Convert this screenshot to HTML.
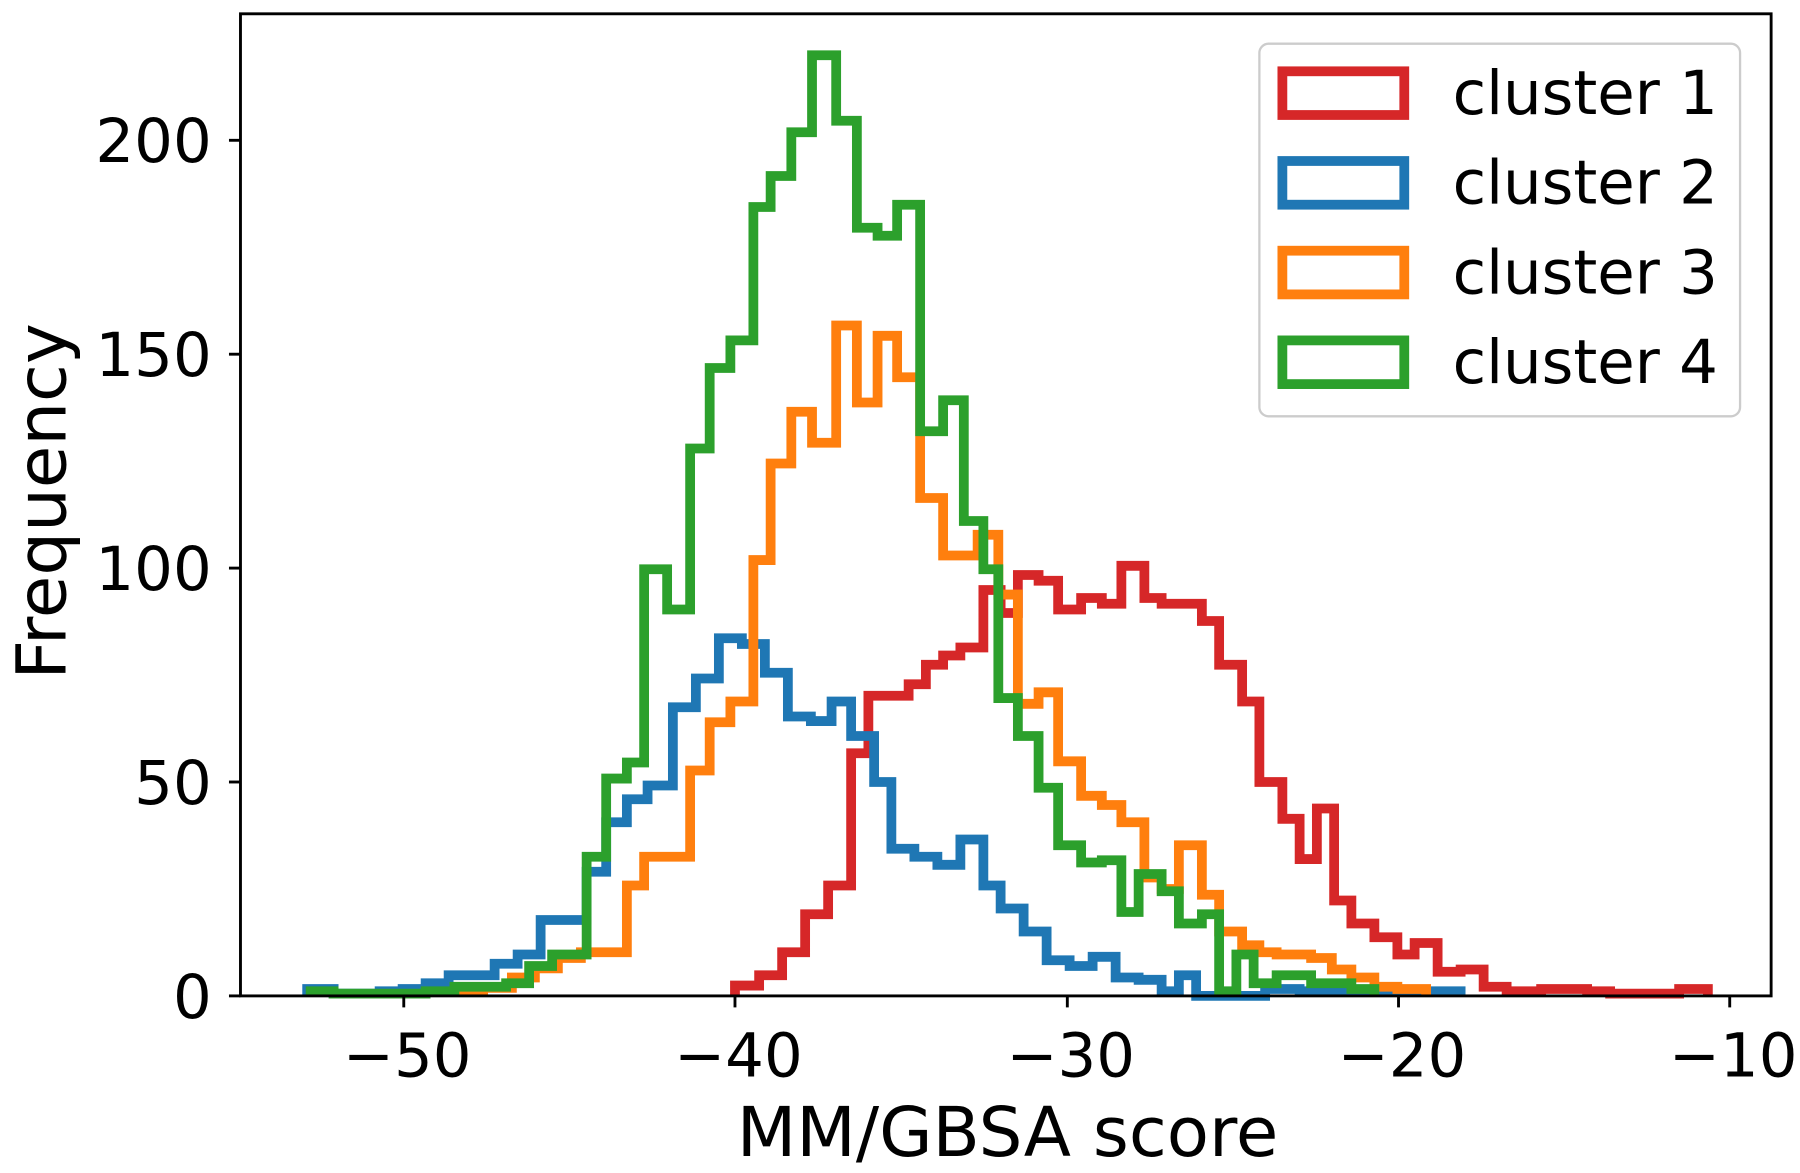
<!DOCTYPE html>
<html><head><meta charset="utf-8"><style>
html,body{margin:0;padding:0;background:#fff;}
svg{display:block;}
text{font-family:"DejaVu Sans","Liberation Sans",sans-serif;fill:#000;}
</style></head><body>
<svg id="s" width="1800" height="1173" viewBox="0 0 1565 1020" xmlns="http://www.w3.org/2000/svg">
<rect x="0" y="0" width="1565" height="1020" fill="#fff"/>
<g id="series" fill="none" stroke-width="8.5" stroke-linejoin="miter"></g>
<rect x="209" y="12" width="1331" height="854" fill="none" stroke="#000" stroke-width="2.5"/>
<g stroke="#000" stroke-width="2.5">
<line x1="351" y1="866" x2="351" y2="876"/><line x1="639" y1="866" x2="639" y2="876"/><line x1="928" y1="866" x2="928" y2="876"/><line x1="1216" y1="866" x2="1216" y2="876"/><line x1="1504" y1="866" x2="1504" y2="876"/>
<line x1="199" y1="866" x2="209" y2="866"/><line x1="199" y1="680" x2="209" y2="680"/><line x1="199" y1="494" x2="209" y2="494"/><line x1="199" y1="308" x2="209" y2="308"/><line x1="199" y1="122" x2="209" y2="122"/>
</g>
<g font-size="53" text-anchor="middle">
<text x="354" y="936">−50</text><text x="642" y="936">−40</text><text x="931" y="936">−30</text><text x="1219" y="936">−20</text><text x="1507" y="936">−10</text>
</g>
<g font-size="53" text-anchor="end">
<text x="184" y="885">0</text><text x="184" y="699">50</text><text x="184" y="513">100</text><text x="184" y="327">150</text><text x="184" y="141">200</text>
</g>
<text x="876" y="1005" font-size="60" text-anchor="middle">MM/GBSA score</text>
<text transform="translate(57,436) rotate(-90)" font-size="60" text-anchor="middle">Frequency</text>
<rect x="1095" y="38" width="418" height="324" rx="8" fill="#fff" fill-opacity="0.8" stroke="#ccc" stroke-width="2"/>
<g fill="none" stroke-width="8.5">
<rect x="1115" y="62" width="106" height="38" stroke="#d62728"/>
<rect x="1115" y="140" width="106" height="38" stroke="#1f77b4"/>
<rect x="1115" y="218" width="106" height="38" stroke="#ff7f0e"/>
<rect x="1115" y="296" width="106" height="38" stroke="#2ca02c"/>
</g>
<g font-size="53">
<text x="1263" y="99">cluster 1</text><text x="1263" y="177">cluster 2</text><text x="1263" y="255">cluster 3</text><text x="1263" y="333">cluster 4</text>
</g>
</svg>
<script>
var B=866;
var S=[
["#d62728",[[639,857],[660,848],[680,828],[700,795],[720,770],[740,655],[755,605],[770,605],[790,595],[805,578],[820,570],[835,563],[855,513],[870,533],[885,500],[903,505],[920,530],[940,520],[958,525],[975,492],[995,520],[1010,525],[1030,525],[1045,540],[1060,578],[1080,610],[1095,680],[1115,712],[1130,747],[1145,703],[1160,783],[1175,803],[1195,815],[1215,830],[1230,820],[1250,845],[1270,843],[1290,858],[1310,862],[1340,860],[1380,862],[1400,864],[1460,860]],1485],
["#1f77b4",[[267,860],[290,864],[330,862],[350,860],[370,855],[390,848],[430,838],[450,830],[470,800],[490,800],[510,758],[527,715],[545,695],[563,683],[585,615],[605,590],[625,555],[645,560],[665,585],[685,623],[705,627],[723,610],[740,640],[760,680],[775,738],[795,745],[815,752],[835,730],[855,770],[870,790],[890,810],[910,835],[930,840],[950,832],[970,850],[990,852],[1010,862],[1025,848],[1040,866],[1100,860],[1130,862]],1270],
["#ff7f0e",[[395,862],[420,859],[445,850],[465,842],[485,833],[505,828],[545,770],[560,745],[600,670],[617,628],[635,610],[655,487],[670,403],[688,358],[706,385],[727,283],[745,350],[763,292],[780,328],[800,433],[820,483],[850,465],[868,517],[885,612],[903,602],[920,662],[940,692],[958,700],[975,715],[995,763],[1010,773],[1025,735],[1045,778],[1060,810],[1080,822],[1095,828],[1110,830],[1140,833],[1158,843],[1175,850],[1195,858],[1215,860]],1240],
["#2ca02c",[[270,862],[290,864],[370,862],[395,858],[440,855],[460,840],[480,830],[510,745],[527,677],[545,663],[560,495],[580,530],[600,390],[617,320],[635,296],[655,180],[670,153],[688,115],[706,48],[727,105],[745,198],[763,205],[780,178],[800,375],[820,348],[838,453],[855,495],[868,607],[885,640],[903,685],[920,735],[940,750],[958,748],[975,793],[990,760],[1010,775],[1025,803],[1045,795],[1060,862],[1075,830],[1090,855],[1110,848],[1140,855],[1175,860]],1195]
];
var g=document.getElementById("series");
S.forEach(function(s){
 var p=s[1],d="M"+p[0][0]+","+B;
 for(var i=0;i<p.length;i++){var x2=(i+1<p.length)?p[i+1][0]:s[2];d+=" L"+p[i][0]+","+p[i][1]+" L"+x2+","+p[i][1];}
 d+=" L"+s[2]+","+B;
 var e=document.createElementNS("http://www.w3.org/2000/svg","path");
 e.setAttribute("d",d);e.setAttribute("stroke",s[0]);g.appendChild(e);
});
</script>
</body></html>
